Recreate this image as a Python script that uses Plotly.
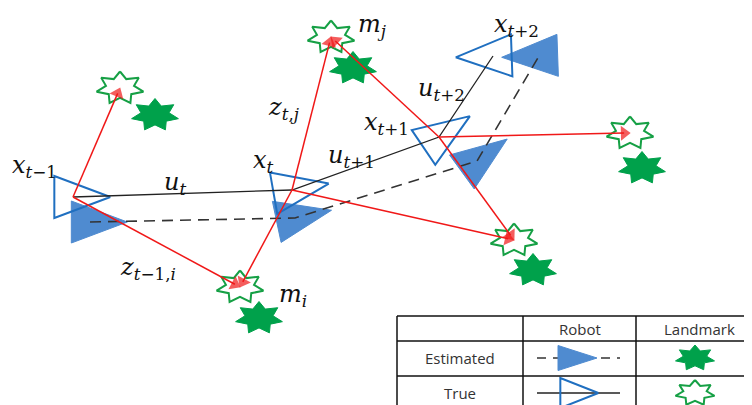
import numpy as np
import plotly.graph_objects as go

# ---------------- data ----------------
true_pose_x = [73, 292, 439, 493]
true_pose_y = [197, 190, 137, 56]
true_heading = [0, 10, 34, 182]

est_pose_x = [90, 295, 477, 539]
est_pose_y = [222, 218, 161, 56]
est_heading = [0, 12, 36, 182]

true_lm_x = [120, 240, 331, 514, 630]
true_lm_y = [88, 287, 37, 240, 133]
est_lm_x = [155, 259, 353, 533, 642]
est_lm_y = [115, 318, 68, 270, 168]

obs_pose = [0, 0, 1, 1, 1, 2, 2, 2]
obs_lm = [0, 1, 2, 1, 3, 2, 3, 4]

label_texts = [
    "<i>x</i><sub><i>t</i>−1</sub>",
    "<i>u</i><sub><i>t</i></sub>",
    "<i>x</i><sub><i>t</i></sub>",
    "<i>z</i><sub><i>t</i>,<i>j</i></sub>",
    "<i>u</i><sub><i>t</i>+1</sub>",
    "<i>x</i><sub><i>t</i>+1</sub>",
    "<i>u</i><sub><i>t</i>+2</sub>",
    "<i>x</i><sub><i>t</i>+2</sub>",
    "<i>m</i><sub><i>j</i></sub>",
    "<i>m</i><sub><i>i</i></sub>",
    "<i>z</i><sub><i>t</i>−1,<i>i</i></sub>",
]
label_x = [34, 175, 263, 283, 351, 386, 441, 516, 372, 293, 148]
label_y = [166, 183, 161, 108, 156, 123, 89, 25, 25, 295, 268]

table_cols = ["", "Robot", "Landmark"]
table_rows = ["Estimated", "True"]

# ---------------- styles / geometry ----------------
PAGE_OFF = 8          # body margin of the html page
W, H = 752 - PAGE_OFF, 405 - PAGE_OFF
TRI_H, TRI_B = 56, 42
BLUE_LINE = "#1f6fc0"
BLUE_FILL = "#4f8bd0"
GREEN_LINE = "#16a045"
GREEN_FILL = "#00a14b"
RED = "#f01818"
ARROW_SIZE = 13


def triangle(cx, cy, heading, h=TRI_H, b=TRI_B):
    t = np.deg2rad(heading)
    d = np.array([np.cos(t), -np.sin(t)])
    n = np.array([np.sin(t), np.cos(t)])
    c = np.array([cx, cy])
    tip = c + (2 / 3) * h * d
    b1 = c - (1 / 3) * h * d + (b / 2) * n
    b2 = c - (1 / 3) * h * d - (b / 2) * n
    pts = [tip, b1, b2, tip]
    return [p[0] for p in pts], [p[1] for p in pts]


def star(cx, cy, rx=24, ry=16.5, k=7, ratio=0.6):
    xs, ys = [], []
    for i in range(2 * k + 1):
        ang = np.pi / 2 + i * np.pi / k
        r = 1.0 if i % 2 == 0 else ratio
        xs.append(cx + rx * r * np.cos(ang))
        ys.append(cy - ry * r * np.sin(ang))
    return xs, ys


fig = go.Figure()
NOHOVER = dict(hoverinfo="skip", showlegend=False)

# estimated robot poses (filled triangles)
for x, y, hd in zip(est_pose_x, est_pose_y, est_heading):
    tx, ty = triangle(x, y, hd)
    fig.add_trace(go.Scatter(x=tx, y=ty, mode="lines", fill="toself",
                             fillcolor=BLUE_FILL, line=dict(color=BLUE_FILL, width=1), **NOHOVER))

# true robot poses (outline triangles)
for x, y, hd in zip(true_pose_x, true_pose_y, true_heading):
    tx, ty = triangle(x, y, hd)
    fig.add_trace(go.Scatter(x=tx, y=ty, mode="lines",
                             line=dict(color=BLUE_LINE, width=2), **NOHOVER))

# estimated trajectory (dashed) and true trajectory (solid)
fig.add_trace(go.Scatter(x=est_pose_x, y=est_pose_y, mode="lines",
                         line=dict(color="#333333", width=1.6, dash="11px,7px"), **NOHOVER))
fig.add_trace(go.Scatter(x=true_pose_x, y=true_pose_y, mode="lines",
                         line=dict(color="#222222", width=1.3), **NOHOVER))

# landmarks
for x, y in zip(est_lm_x, est_lm_y):
    sx, sy = star(x, y)
    fig.add_trace(go.Scatter(x=sx, y=sy, mode="lines", fill="toself",
                             fillcolor=GREEN_FILL, line=dict(color=GREEN_FILL, width=1), **NOHOVER))
for x, y in zip(true_lm_x, true_lm_y):
    sx, sy = star(x, y)
    fig.add_trace(go.Scatter(x=sx, y=sy, mode="lines", fill="toself",
                             fillcolor="white", line=dict(color=GREEN_LINE, width=2), **NOHOVER))

# observations (red arrows): line + triangle head oriented along the line
for p, l in zip(obs_pose, obs_lm):
    x0, y0 = true_pose_x[p], true_pose_y[p]
    x1, y1 = true_lm_x[l], true_lm_y[l]
    v = np.array([x1 - x0, y1 - y0], dtype=float)
    u = v / np.linalg.norm(v)
    hx, hy = x1 - u[0] * ARROW_SIZE * 0.45, y1 - u[1] * ARROW_SIZE * 0.45
    fig.add_trace(go.Scatter(x=[x0, hx], y=[y0, hy], mode="lines",
                             line=dict(color=RED, width=1.5), **NOHOVER))
    fig.add_trace(go.Scatter(x=[x0, hx], y=[y0, hy], mode="markers",
                             marker=dict(symbol="triangle-up", size=[0, ARROW_SIZE],
                                         angleref="previous", color=RED,
                                         line=dict(width=0)), **NOHOVER))

annotations = []
# math labels
for t, x, y in zip(label_texts, label_x, label_y):
    annotations.append(dict(x=x, y=y, xref="x", yref="y", text=t, showarrow=False,
                            xanchor="center", yanchor="middle",
                            font=dict(family="DejaVu Serif", size=24, color="#111111")))

# ---------------- table ----------------
col_edges = [397, 523, 636, 765]
row_edges = [316, 341, 376, 411]
shapes = []
for cx in col_edges:
    shapes.append(dict(type="line", x0=cx, x1=cx, y0=row_edges[0], y1=row_edges[-1],
                       xref="x", yref="y", line=dict(color="#111111", width=1.5)))
for ry in row_edges:
    shapes.append(dict(type="line", x0=col_edges[0], x1=col_edges[-1], y0=ry, y1=ry,
                       xref="x", yref="y", line=dict(color="#111111", width=1.5)))

tfont = dict(family="Open Sans", size=15, color="#333333")
header_x = [None, 580, 699]
for c, hx in zip(table_cols, header_x):
    if c:
        annotations.append(dict(x=hx, y=(row_edges[0] + row_edges[1]) / 2, xref="x", yref="y",
                                text=c, showarrow=False, font=tfont))
row_mid = [358, 393]
for r, ry in zip(table_rows, row_mid):
    annotations.append(dict(x=(col_edges[0] + col_edges[1]) / 2, y=ry, xref="x", yref="y",
                            text=r, showarrow=False, font=tfont))

# legend symbols in the table
fig.add_trace(go.Scatter(x=[537, 620], y=[row_mid[0]] * 2, mode="lines",
                         line=dict(color="#333333", width=1.5, dash="9px,7px"), **NOHOVER))
tx, ty = triangle(571, row_mid[0], 0, h=39, b=25)
fig.add_trace(go.Scatter(x=tx, y=ty, mode="lines", fill="toself", fillcolor=BLUE_FILL,
                         line=dict(color=BLUE_FILL, width=1), **NOHOVER))
fig.add_trace(go.Scatter(x=[537, 620], y=[row_mid[1]] * 2, mode="lines",
                         line=dict(color="#222222", width=1.3), **NOHOVER))
tx, ty = triangle(573, row_mid[1], 0, h=38, b=30)
fig.add_trace(go.Scatter(x=tx, y=ty, mode="lines", line=dict(color=BLUE_LINE, width=2), **NOHOVER))
sx, sy = star(695, row_mid[0], rx=20, ry=13)
fig.add_trace(go.Scatter(x=sx, y=sy, mode="lines", fill="toself", fillcolor=GREEN_FILL,
                         line=dict(color=GREEN_FILL, width=1), **NOHOVER))
sx, sy = star(695, row_mid[1], rx=20, ry=13)
fig.add_trace(go.Scatter(x=sx, y=sy, mode="lines", fill="toself", fillcolor="white",
                         line=dict(color=GREEN_LINE, width=2), **NOHOVER))

fig.update_layout(
    width=W, height=H, margin=dict(l=0, r=0, t=0, b=0),
    paper_bgcolor="white", plot_bgcolor="white",
    xaxis=dict(range=[PAGE_OFF, 752], visible=False, fixedrange=True),
    yaxis=dict(range=[405, PAGE_OFF], visible=False, fixedrange=True),
    annotations=annotations, shapes=shapes, showlegend=False,
)

fig.write_html("out.html")
